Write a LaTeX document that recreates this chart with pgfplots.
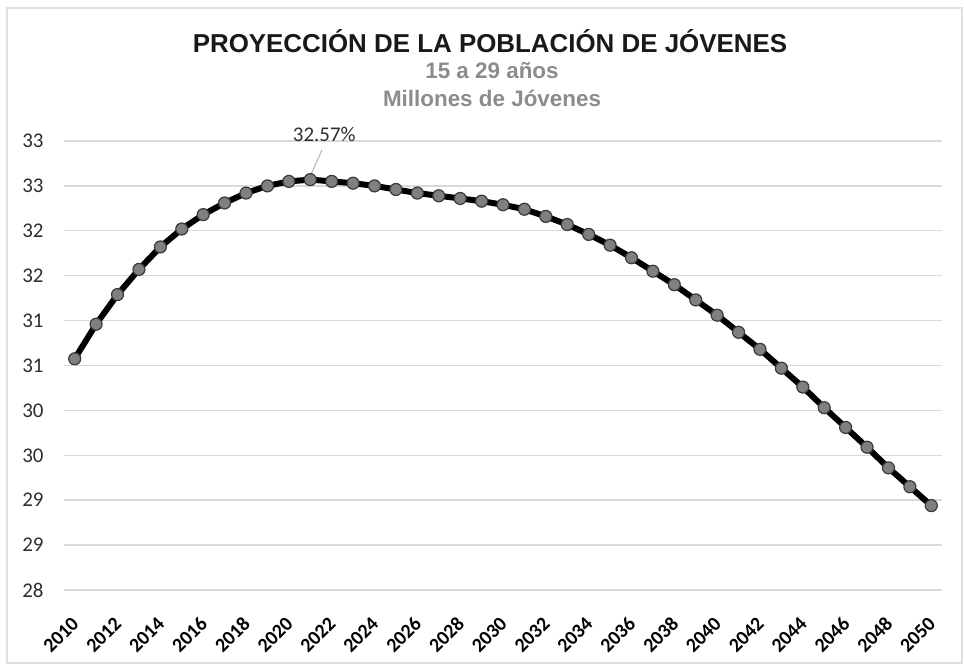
\documentclass[border=0pt]{standalone}
\usepackage{pgfplots}
\pgfplotsset{compat=1.18}
\usepackage{fontspec}
\setmainfont{Carlito}
\newfontfamily\arialfont{Liberation Sans}
\definecolor{gridc}{HTML}{D9D9D9}
\definecolor{subc}{HTML}{8C8C8C}
\definecolor{markc}{HTML}{808080}
\definecolor{markd}{HTML}{3A3A3A}
\definecolor{tickc}{HTML}{2E2E2E}
\definecolor{framec}{HTML}{E0E0E0}
\pgfplotstableread{
year val
2010 30.575
2011 30.96
2012 31.29
2013 31.57
2014 31.82
2015 32.02
2016 32.18
2017 32.31
2018 32.42
2019 32.50
2020 32.55
2021 32.57
2022 32.55
2023 32.53
2024 32.50
2025 32.46
2026 32.42
2027 32.39
2028 32.36
2029 32.33
2030 32.29
2031 32.24
2032 32.16
2033 32.07
2034 31.96
2035 31.84
2036 31.70
2037 31.55
2038 31.40
2039 31.23
2040 31.06
2041 30.87
2042 30.68
2043 30.47
2044 30.26
2045 30.03
2046 29.81
2047 29.59
2048 29.36
2049 29.15
2050 28.94
}\datatable
\begin{document}
\begin{tikzpicture}
\useasboundingbox (0,0) rectangle (964bp,665bp);
\draw[framec, line width=1.5bp] (7bp,2bp) rectangle (962bp,657bp);
\begin{axis}[
  at={(64bp,75bp)}, anchor=south west,
  width=878bp, height=449bp, scale only axis,
  xmin=2009.5, xmax=2050.5,
  ymin=28, ymax=33,
  clip=false,
  axis line style={draw=none},
  major tick length=0pt,
  tick style={draw=none},
  ymajorgrids,
  grid style={gridc, line width=1.4bp},
  ytick={28,28.5,29,29.5,30,30.5,31,31.5,32,32.5,33},
  yticklabels={28,29,29,30,30,31,31,32,32,33,33},
  xtick={2010,2012,...,2050},
  /pgf/number format/1000 sep={},
  /pgf/number format/assume math mode=true,
  yticklabel style={font=\fontsize{21}{23}\selectfont, text=tickc, xshift=-17bp},
  xticklabel style={font=\fontsize{20}{22}\selectfont\bfseries, text=black, xshift=3bp, yshift=-28bp, rotate=45, anchor=east},
]
\addplot[black, line width=6bp, mark=*, mark size=6bp,
  mark options={fill=markc, draw=markd, line width=1.2bp}]
  table[x=year, y=val] {\datatable};
\draw[gray!60, line width=1bp] (axis cs:2021,32.57) ++(1.3bp,6.5bp) -- ++(10.4bp,23bp);
\node[font=\fontsize{21}{23}\selectfont, text=tickc] at (axis cs:2021,32.57) [xshift=14bp, yshift=45bp] {32.57\%};
\end{axis}
\node[font=\arialfont\fontsize{26}{30}\selectfont\bfseries, text=black!90] at (490bp,624bp) {PROYECCIÓN DE LA POBLACIÓN DE JÓVENES};
\node[font=\arialfont\fontsize{22.5}{26}\selectfont\bfseries, text=subc] at (492bp,594bp) {15 a 29 años};
\node[font=\arialfont\fontsize{22.5}{26}\selectfont\bfseries, text=subc] at (492bp,567bp) {Millones de Jóvenes};
\end{tikzpicture}
\end{document}
